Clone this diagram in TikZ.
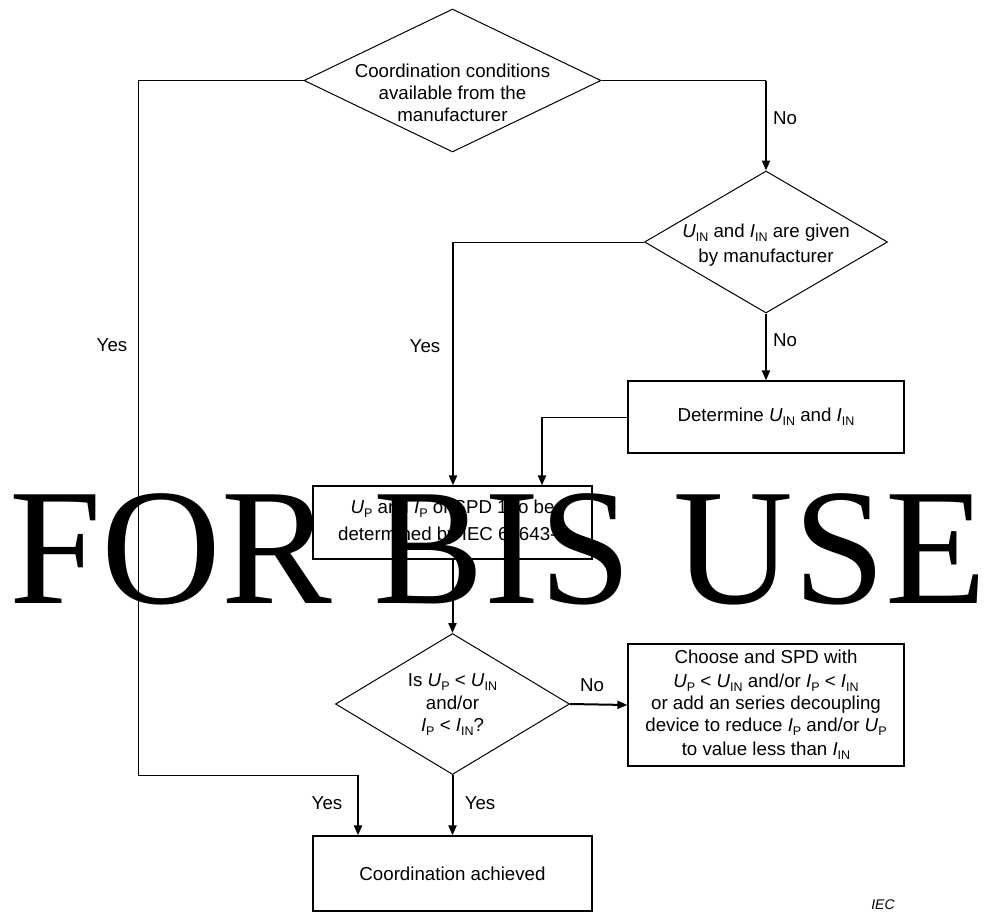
\documentclass[tikz,border=0pt]{standalone}
\usepackage{fontspec}
\setmainfont{Liberation Sans}
\newfontfamily\wmfont{Liberation Serif}
\usetikzlibrary{shapes.geometric,arrows.meta}
\newcommand\sbs[1]{\raisebox{-4pt}{\fontsize{12.5}{12.5}\selectfont #1}}
\newcommand\vU{\textit{U}}
\newcommand\vI{\textit{I}}
\begin{document}
\begin{tikzpicture}[x=1pt,y=-1pt,
  txt/.style={font=\fontsize{18.7}{22}\selectfont, align=center, inner sep=0pt},
  box/.style={draw, line width=1.2pt, inner sep=0pt, txt},
  dia/.style={draw, shape=diamond, line width=1pt, inner sep=0pt},
  thinl/.style={line width=1pt},
  arr/.style={line width=2pt, -{Triangle[length=10pt,width=8pt]}}
]
\useasboundingbox (0,0) rectangle (989,913);

% decisions
\node[dia, minimum width=297pt, minimum height=143pt] (d1) at (452.5,80.5) {};
\node[txt] (d1t) at (452.5,93) {Coordination conditions\\available from the\\manufacturer};

\node[dia, minimum width=243pt, minimum height=142pt] (d2) at (766,242) {};
\node[txt] (d2t) at (766,245) {\vU\sbs{IN} and \vI\sbs{IN} are given\\[3pt]by manufacturer};

\node[dia, minimum width=234pt, minimum height=141pt] (d3) at (452.5,704) {};
\node[txt] (d3t) at (452.5,705) {Is \vU\sbs{P} < \vU\sbs{IN}\\[1pt]and/or\\\vI\sbs{P} < \vI\sbs{IN}?};

% boxes
\node[box, minimum width=276pt, minimum height=72pt] (b2) at (766,417) {Determine \vU\sbs{IN} and \vI\sbs{IN}};
\node[box, minimum width=279pt, minimum height=73pt] (b3) at (452.5,522.5) {\vU\sbs{P} and \vI\sbs{P} of SPD 1 to be\\[5pt]determined by IEC 61643-2};
\node[box, minimum width=276pt, minimum height=122pt] (b4) at (766,705) {Choose and SPD with\\[2pt]\vU\sbs{P} < \vU\sbs{IN} and/or \vI\sbs{P} < \vI\sbs{IN}\\or add an series decoupling\\device to reduce \vI\sbs{P} and/or \vU\sbs{P}\\[2pt]to value less than \vI\sbs{IN}};
\node[box, minimum width=279pt, minimum height=75pt] (b5) at (452.5,873.5) {Coordination achieved};

% helper coordinates
\coordinate (cL) at (138,80.5);
\coordinate (cLB) at (138,775);
\coordinate (cLR) at (358,775);
\coordinate (cR) at (766,80.5);
\coordinate (cY) at (453,242);
\coordinate (cD) at (542,417);

% connectors
\draw[thinl] (d1.west) -- (cL) -- (cLB) -- (cLR);
\draw[arr] (cLR) -- (cLR |- b5.north);
\draw[thinl] (d1.east) -- (cR);
\draw[arr] (cR) -- (d2.north);
\draw[thinl] (d2.west) -- (cY);
\draw[arr] (cY) -- (cY |- b3.north);
\draw[arr] (d2.south) -- (b2.north);
\draw[thinl] (b2.west) -- (cD);
\draw[arr] (cD) -- (cD |- b3.north);
\draw[arr] (b3.south) -- (d3.north);
\draw[arr] (d3.east) -- (b4.west);
\draw[arr] (d3.south) -- (b5.north);

% labels
\node[txt] (l1) at (785,118) {No};
\node[txt] (l2) at (112,345) {Yes};
\node[txt] (l3) at (425,346) {Yes};
\node[txt] (l4) at (785,340) {No};
\node[txt] (l5) at (592,685) {No};
\node[txt] (l6) at (327,803) {Yes};
\node[txt] (l7) at (480,803) {Yes};
\node[inner sep=0pt, font=\fontsize{14}{14}\selectfont\itshape] (iec) at (883,905) {IEC};

% watermark
\node[anchor=base west, inner sep=0pt, font=\wmfont\fontsize{166}{166}\selectfont] (wm) at (9,603) {FOR BIS USE};
\end{tikzpicture}
\end{document}
